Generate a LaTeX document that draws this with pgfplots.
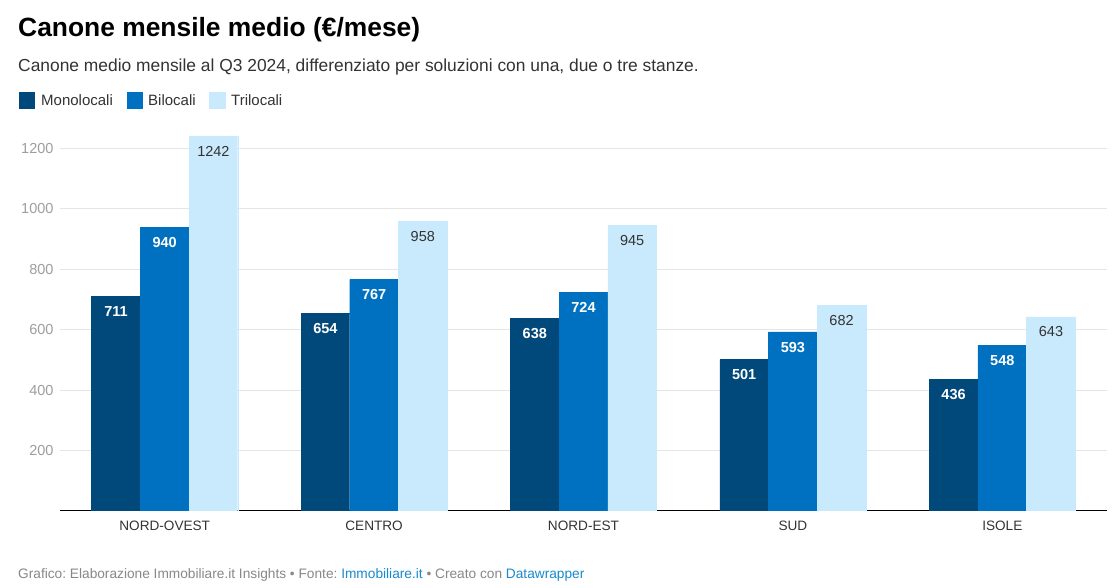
\documentclass[border=0pt]{standalone}
\usepackage{fontspec}
\setmainfont{Liberation Sans}
\usepackage{pgfplots}
\pgfplotsset{compat=1.18}
\definecolor{monoBlue}{RGB}{2,73,123}
\definecolor{biBlue}{RGB}{0,112,192}
\definecolor{triBlue}{RGB}{201,234,252}
\definecolor{gridGray}{RGB}{229,229,229}
\definecolor{tickGray}{RGB}{158,158,158}
\definecolor{textDark}{RGB}{51,51,51}
\definecolor{footGray}{RGB}{136,136,136}
\definecolor{linkBlue}{RGB}{24,138,203}

\begin{document}
\frenchspacing
\begin{tikzpicture}
    % tela bianca con le dimensioni del riferimento
    \path[use as bounding box, fill=white] (0pt,0pt) rectangle (1117pt,588pt);

    \begin{scope}[x=1pt,y=1pt]
    % titolo e sottotitolo
    \node[anchor=base west, inner sep=0, text=black,
          font=\bfseries\fontsize{26.4}{30}\selectfont] at (18,551)
        {Canone mensile medio (€/mese)};
    \node[anchor=base west, inner sep=0, text=textDark,
          font=\fontsize{17.4}{20}\selectfont] at (18,516)
        {Canone medio mensile al Q3 2024, differenziato per soluzioni con una, due o tre stanze.};

    % legenda
    \fill[monoBlue] (19,479) rectangle (35,496);
    \node[anchor=base west, inner sep=0, text=textDark, font=\fontsize{15}{18}\selectfont] at (41,482) {Monolocali};
    \fill[biBlue] (127,479) rectangle (143,496);
    \node[anchor=base west, inner sep=0, text=textDark, font=\fontsize{15}{18}\selectfont] at (148,482) {Bilocali};
    \fill[triBlue] (209,479) rectangle (226,496);
    \node[anchor=base west, inner sep=0, text=textDark, font=\fontsize{15}{18}\selectfont] at (231,482) {Trilocali};

    % fonte
    \node[anchor=base west, inner sep=0, text=footGray, font=\fontsize{13.7}{16}\selectfont] at (18,9)
        {Grafico: Elaborazione Immobiliare.it Insights • Fonte: \textcolor{linkBlue}{Immobiliare.it} • Creato con \textcolor{linkBlue}{Datawrapper}};
    \end{scope}

    \begin{axis}[
        at={(60pt,77pt)}, anchor=south west,
        scale only axis,
        width=1047pt, height=376pt,
        xmin=-0.5, xmax=4.5,
        ymin=0, ymax=1245,
        ybar=0pt,
        bar width=48.7pt,
        xtick={0,1,2,3,4},
        xticklabels={NORD-OVEST,CENTRO,NORD-EST,SUD,ISOLE},
        ytick={200,400,600,800,1000,1200},
        ymajorgrids=true,
        grid style={gridGray, line width=1pt},
        major tick length=0pt,
        axis x line*=bottom,
        axis y line*=left,
        x axis line style={-, black, line width=1pt},
        y axis line style={draw=none},
        axis on top=false,
        /pgf/number format/assume math mode=true,
        /pgf/number format/1000 sep={},
        tick label style={font=\fontsize{14.5}{17}\selectfont},
        yticklabel style={text=tickGray, anchor=east, xshift=-3pt},
        xticklabel style={text=textDark, yshift=-6pt, font=\fontsize{13.6}{16}\selectfont},
        nodes near coords,
        every node near coord/.append style={
            anchor=north, yshift=-6.5pt,
            font=\fontsize{14.5}{17}\selectfont,
            /pgf/number format/fixed,
            /pgf/number format/precision=0,
        },
    ]
    % Monolocali
    \addplot[fill=monoBlue, draw=monoBlue, line width=0.4pt,
        every node near coord/.append style={text=white, font=\bfseries\fontsize{14.5}{17}\selectfont}]
        coordinates {(0,711) (1,654) (2,638) (3,501) (4,436)};
    % Bilocali
    \addplot[fill=biBlue, draw=biBlue, line width=0.4pt,
        every node near coord/.append style={text=white, font=\bfseries\fontsize{14.5}{17}\selectfont}]
        coordinates {(0,940) (1,767) (2,724) (3,593) (4,548)};
    % Trilocali
    \addplot[fill=triBlue, draw=triBlue, line width=0.4pt,
        every node near coord/.append style={text=textDark}]
        coordinates {(0,1242) (1,958) (2,945) (3,682) (4,643)};
    \end{axis}
\end{tikzpicture}
\end{document}
